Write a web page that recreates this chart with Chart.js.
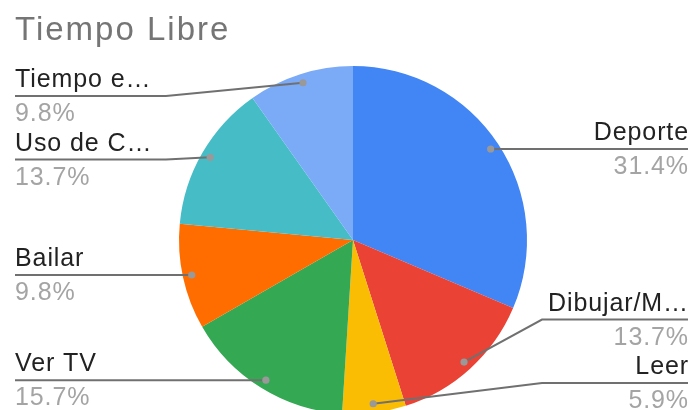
<!DOCTYPE html>
<html><head><meta charset="utf-8">
<script src="https://cdn.jsdelivr.net/npm/chart.js@4"></script>
<style>
html,body{margin:0;padding:0;background:#fff;overflow:hidden;width:694px;height:410px}
#wrap{position:relative;width:694px;height:430px}
</style></head>
<body><div id="wrap"><canvas id="c"></canvas></div>
<script>
const chartTitle = 'Tiempo Libre';
const categories = ['Deporte', 'Dibujar/M…', 'Leer', 'Ver TV', 'Bailar', 'Uso de C…', 'Tiempo e…'];
const values = [31.4, 13.7, 5.9, 15.7, 9.8, 13.7, 9.8];
const colors = ['#4285F4', '#EA4335', '#FBBC04', '#34A853', '#FF6D01', '#46BDC6', '#7BAAF7'];

const FONT = '"Liberation Sans", Arial, sans-serif';

const outLabels = {
  id: 'outLabels',
  afterDraw(chart) {
    const ctx = chart.ctx;
    const meta = chart.getDatasetMeta(0);
    const total = values.reduce((a, b) => a + b, 0);
    const items = meta.data.map((arc, i) => {
      const p = arc.getProps(['x', 'y', 'startAngle', 'endAngle', 'outerRadius'], true);
      const mid = (p.startAngle + p.endAngle) / 2;
      const r = p.outerRadius - 9;
      const dx = p.x + Math.cos(mid) * r, dy = p.y + Math.sin(mid) * r;
      return { i, dx, dy, right: Math.cos(mid) >= 0, ly: dy };
    });
    const minY = 96, maxY = 383, gap = 63.5;
    [true, false].forEach(side => {
      const s = items.filter(o => o.right === side).sort((a, b) => a.dy - b.dy);
      s.forEach(o => { o.ly = Math.min(maxY, Math.max(minY, o.dy)); });
      for (let k = 1; k < s.length; k++) s[k].ly = Math.max(s[k].ly, s[k - 1].ly + gap);
      if (s.length) s[s.length - 1].ly = Math.min(s[s.length - 1].ly, maxY);
      for (let k = s.length - 2; k >= 0; k--) s[k].ly = Math.min(s[k].ly, s[k + 1].ly - gap);
    });
    ctx.save();
    // title
    ctx.font = '33px ' + FONT;
    ctx.fillStyle = '#757575';
    ctx.textAlign = 'left';
    ctx.textBaseline = 'alphabetic';
    ctx.letterSpacing = '2px';
    ctx.fillText(chartTitle, 15, 40);

    items.forEach(o => {
      const outerX = o.right ? 688 : 15;
      const innerX = o.right ? 542 : 166;
      ctx.strokeStyle = '#707070';
      ctx.lineWidth = 2;
      ctx.beginPath();
      ctx.moveTo(outerX, o.ly);
      ctx.lineTo(innerX, o.ly);
      ctx.lineTo(o.dx, o.dy);
      ctx.stroke();
      ctx.fillStyle = '#999999';
      ctx.beginPath();
      ctx.arc(o.dx, o.dy, 3.6, 0, Math.PI * 2);
      ctx.fill();
      ctx.font = '25px ' + FONT;
      ctx.letterSpacing = '0.9px';
      ctx.textAlign = o.right ? 'right' : 'left';
      const tx = o.right ? outerX + 1 : outerX;
      ctx.fillStyle = '#222222';
      ctx.fillText(categories[o.i], tx, o.ly - 9);
      ctx.fillStyle = '#a4a4a4';
      ctx.fillText((values[o.i] / total * 100).toFixed(1) + '%', tx, o.ly + 25);
    });
    ctx.restore();
  }
};

new Chart(document.getElementById('c'), {
  type: 'pie',
  data: {
    labels: categories,
    datasets: [{ data: values, backgroundColor: colors, borderWidth: 0 }]
  },
  options: {
    responsive: true,
    maintainAspectRatio: false,
    animation: false,
    layout: { padding: { top: 66, bottom: 16, left: 179, right: 167 } },
    plugins: { legend: { display: false }, tooltip: { enabled: false }, title: { display: false } }
  },
  plugins: [outLabels]
});
</script>
</body></html>
